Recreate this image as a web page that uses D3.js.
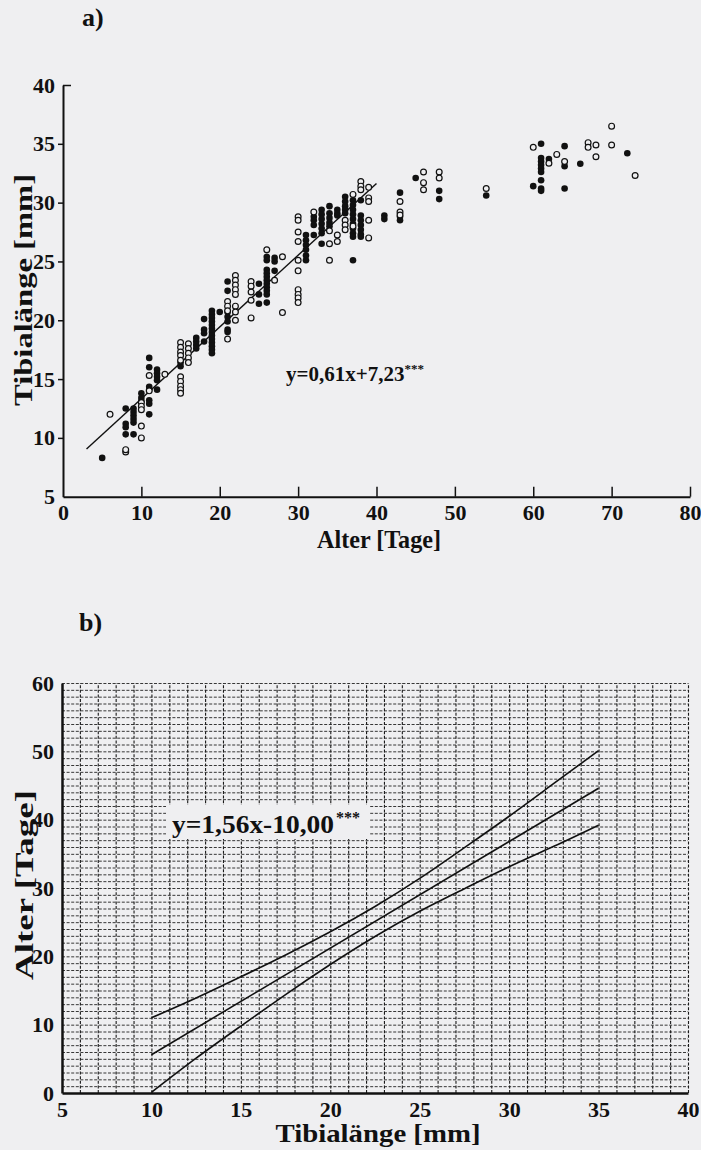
<!DOCTYPE html>
<html><head><meta charset="utf-8">
<script src="https://cdn.jsdelivr.net/npm/d3@7"></script>
<style>
html,body{margin:0;padding:0;background:#efeff1;}
svg{display:block;}
text{font-family:"Liberation Serif","Times New Roman",serif;font-weight:bold;fill:#111;}
</style></head>
<body>
<script>
// ---------- Panel a data: [Alter (Tage), Tibialänge (mm)] ----------
const filledPoints = [
 [5,8.3],
 [8,12.5],[8,11.2],[8,10.9],[8,10.3],
 [9,12.5],[9,12.2],[9,11.9],[9,11.6],[9,11.3],[9,10.3],
 [10,13.8],[10,13.4],[10,13.1],
 [11,16.8],[11,16.0],[11,14.35],[11,14.1],[11,13.2],[11,12.9],[11,12.0],
 [12,15.8],[12,15.5],[12,15.2],[12,14.9],[12,14.1],
 [15,16.4],[15,16.1],
 [17,18.5],[17,18.2],[17,17.9],[17,17.6],
 [18,20.1],[18,19.2],[18,18.9],[18,18.2],
 [19,20.8],[19,20.5],[19,20.2],[19,19.9],[19,19.6],[19,19.3],[19,19.0],[19,18.7],[19,18.4],[19,18.1],[19,17.8],[19,17.5],[19,17.2],
 [20,20.7],
 [21,23.3],[21,22.5],[21,20.7],[21,20.3],[21,19.9],[21,19.2],[21,19.0],
 [25,23.1],[25,22.2],[25,21.4],
 [26,25.4],[26,25.1],[26,24.3],[26,24.0],[26,23.7],[26,23.4],[26,23.1],[26,22.8],[26,22.5],[26,22.2],[26,21.5],
 [27,25.3],[27,25.0],[27,24.2],
 [31,27.25],[31,26.8],[31,26.4],[31,26.0],[31,25.5],[31,25.1],
 [32,28.8],[32,28.5],[32,28.1],[32,27.25],
 [33,29.4],[33,29.0],[33,28.6],[33,28.2],[33,27.8],[33,27.4],[33,26.5],
 [34,29.7],[34,29.1],[34,28.7],[34,28.3],[34,28.0],
 [35,29.4],[35,29.1],[35,28.9],
 [36,30.5],[36,30.1],[36,29.7],[36,29.4],[36,29.1],
 [37,30.2],[37,29.8],[37,29.4],[37,29.0],[37,28.6],[37,28.2],[37,27.8],[37,27.4],[37,27.1],[37,25.1],
 [38,30.2],[38,28.9],[38,28.5],[38,28.1],[38,27.7],[38,27.3],[38,27.1],
 [41,28.9],[41,28.6],
 [43,30.85],[43,28.8],[43,28.5],
 [45,32.1],
 [48,31.0],[48,30.3],
 [54,30.6],
 [60,31.4],
 [61,35.0],[61,33.8],[61,33.5],[61,33.2],[61,32.9],[61,32.6],[61,31.9],[61,31.2],[61,31.0],
 [62,33.7],
 [64,34.8],[64,33.1],[64,31.2],
 [66,33.3],
 [72,34.2]
];
const openPoints = [
 [6,12.0],
 [8,8.8],[8,9.0],
 [10,13.0],[10,12.7],[10,12.4],[10,11.0],[10,10.0],
 [11,15.3],[11,14.0],
 [13,15.4],
 [15,18.1],[15,17.7],[15,17.3],[15,17.0],[15,16.6],[15,15.2],[15,14.8],[15,14.4],[15,14.1],[15,13.8],
 [16,18.0],[16,17.6],[16,17.2],[16,16.8],[16,16.4],
 [21,21.6],[21,21.2],[21,20.8],[21,18.4],
 [22,23.8],[22,23.4],[22,23.0],[22,22.6],[22,22.2],[22,21.2],[22,20.7],[22,20.0],
 [24,23.3],[24,22.9],[24,22.4],[24,21.7],[24,20.2],
 [26,26.0],
 [27,23.4],
 [28,25.4],[28,20.65],
 [30,28.8],[30,28.5],[30,27.5],[30,26.7],[30,25.1],[30,24.2],[30,22.6],[30,22.2],[30,21.9],[30,21.5],
 [32,29.2],
 [34,27.6],[34,26.5],[34,25.1],
 [35,27.25],[35,26.7],
 [36,28.5],[36,28.1],[36,27.7],
 [37,30.7],[37,28.0],
 [38,31.8],[38,31.4],[38,31.1],
 [39,31.3],[39,30.4],[39,30.1],[39,28.5],[39,27.0],
 [43,30.1],[43,29.2],[43,28.95],
 [46,32.6],[46,31.7],[46,31.1],
 [48,32.6],[48,32.1],
 [54,31.2],
 [60,34.7],
 [62,33.35],
 [63,34.1],
 [64,33.5],
 [67,35.1],[67,34.7],
 [68,34.9],[68,33.9],
 [70,36.5],[70,34.9],
 [73,32.3]
];
// regression line a) y = 0.61x + 7.23, drawn from day 3 to day 40
const regA_x = [3, 40];
const regA_y = [9.06, 31.63];
const ticksA_x = [0,10,20,30,40,50,60,70,80];
const ticksA_y = [5,10,15,20,25,30,35,40];

// ---------- Panel b data ----------
const bandX     = [10, 12.5, 15, 17.5, 20, 22.5, 25, 27.5, 30, 32.5, 35];
const bandUpper = [11.0, 13.9, 17.0, 20.2, 23.6, 27.3, 31.4, 35.9, 40.5, 45.3, 50.1];
const bandLower = [0.1, 5.1, 9.8, 14.4, 18.8, 22.9, 26.6, 29.9, 33.1, 36.1, 39.2];
const regB_x = [10, 35];
const regB_y = [5.6, 44.6];
const ticksB_x = [5,10,15,20,25,30,35,40];
const ticksB_y = [0,10,20,30,40,50,60];

const W = 701, H = 1150;
const BG = "#efeff1";
const svg = d3.select("body").append("svg").attr("width", W).attr("height", H);

function styleLabels(sel, size){
  sel.selectAll("text").attr("font-size",size).attr("font-family","Liberation Serif")
    .attr("font-weight","bold").attr("fill","#111");
}

// ================= Panel a =================
const xA = d3.scaleLinear().domain([0,80]).range([63,690]);
const yA = d3.scaleLinear().domain([5,40]).range([496.7,85]);
const gA = svg.append("g");

svg.append("text").attr("x",82).attr("y",26).attr("font-size",26).text("a)");

// x axis (ticks inward)
const axA_x = gA.append("g").attr("transform",`translate(0,${yA(5)})`)
  .call(d3.axisBottom(xA).tickValues(ticksA_x).tickSizeInner(-10).tickSizeOuter(0).tickPadding(8));
axA_x.select(".domain").attr("stroke","#111").attr("stroke-width",2);
axA_x.selectAll(".tick line").attr("stroke","#111").attr("stroke-width",1.5);
axA_x.selectAll(".tick").filter(d=>d===0).select("line").remove();
styleLabels(axA_x, 22);

// y axis
const axA_y = gA.append("g").attr("transform",`translate(${xA(0)},0)`)
  .call(d3.axisLeft(yA).tickValues(ticksA_y).tickSizeInner(5).tickSizeOuter(0).tickPadding(3));
axA_y.select(".domain").attr("stroke","#111").attr("stroke-width",2);
axA_y.selectAll(".tick line").attr("stroke","#111").attr("stroke-width",1.5);
axA_y.selectAll(".tick").filter(d=>d===40).select("line").attr("x2",8);
axA_y.selectAll(".tick").filter(d=>d===5).select("line").remove();
styleLabels(axA_y, 22);

// titles
gA.append("text").attr("x",379).attr("y",548).attr("text-anchor","middle").attr("font-size",25)
  .attr("textLength",124).attr("lengthAdjust","spacingAndGlyphs").text("Alter [Tage]");
gA.append("text").attr("transform","translate(32,290) rotate(-90)").attr("text-anchor","middle").attr("font-size",26)
  .attr("textLength",232).attr("lengthAdjust","spacingAndGlyphs").text("Tibialänge [mm]");

// regression line
gA.append("line").attr("x1",xA(regA_x[0])).attr("y1",yA(regA_y[0]))
  .attr("x2",xA(regA_x[1])).attr("y2",yA(regA_y[1])).attr("stroke","#111").attr("stroke-width",1.4);

// points
gA.append("g").selectAll("circle").data(filledPoints).join("circle")
  .attr("cx",d=>xA(d[0])).attr("cy",d=>yA(d[1])).attr("r",3.3).attr("fill","#111");
gA.append("g").selectAll("circle").data(openPoints).join("circle")
  .attr("cx",d=>xA(d[0])).attr("cy",d=>yA(d[1])).attr("r",2.9)
  .attr("fill",BG).attr("stroke","#111").attr("stroke-width",1.2);

// equation
const eqA = gA.append("text").attr("x",286).attr("y",381).attr("font-size",21);
eqA.append("tspan").text("y=0,61x+7,23");
eqA.append("tspan").attr("dy",-8).attr("font-size",13).text("***");

// ================= Panel b =================
const xB = d3.scaleLinear().domain([5,40]).range([62,688]);
const yB = d3.scaleLinear().domain([0,60]).range([1093,683]);
const gB = svg.append("g");

svg.append("text").attr("x",79).attr("y",631).attr("font-size",26).text("b)");

// grid
const gridV = gB.append("g").attr("transform",`translate(0,${yB(0)})`)
  .call(d3.axisBottom(xB).tickValues(d3.range(6,41)).tickSize(-(yB(0)-yB(60))).tickFormat(""));
gridV.select(".domain").remove();
gridV.selectAll("line").attr("stroke","#1a1a1a").attr("stroke-width",1.1).attr("stroke-dasharray","3,1.6");
const gridH = gB.append("g").attr("transform",`translate(${xB(5)},0)`)
  .call(d3.axisLeft(yB).tickValues(d3.range(1,61)).tickSize(-(xB(40)-xB(5))).tickFormat(""));
gridH.select(".domain").remove();
gridH.selectAll("line").attr("stroke","#222").attr("stroke-width",0.9).attr("stroke-dasharray","3,1.6");

// axes
const axB_x = gB.append("g").attr("transform",`translate(0,${yB(0)})`)
  .call(d3.axisBottom(xB).tickValues(ticksB_x).tickSize(0).tickPadding(8));
axB_x.select(".domain").attr("stroke","#111").attr("stroke-width",2.5);
styleLabels(axB_x, 22);
const axB_y = gB.append("g").attr("transform",`translate(${xB(5)},0)`)
  .call(d3.axisLeft(yB).tickValues(ticksB_y).tickSize(0).tickPadding(8));
axB_y.select(".domain").attr("stroke","#111").attr("stroke-width",2.5);
styleLabels(axB_y, 22);

// titles
gB.append("text").attr("x",378).attr("y",1142).attr("text-anchor","middle").attr("font-size",25)
  .attr("textLength",205).attr("lengthAdjust","spacingAndGlyphs").text("Tibialänge [mm]");
gB.append("text").attr("transform","translate(33,885) rotate(-90)").attr("text-anchor","middle").attr("font-size",26)
  .attr("textLength",190).attr("lengthAdjust","spacingAndGlyphs").text("Alter [Tage]");

// band lines
const lineB = d3.line().x(d=>xB(d[0])).y(d=>yB(d[1])).curve(d3.curveNatural);
gB.append("path").attr("d",lineB(bandX.map((x,i)=>[x,bandUpper[i]]))).attr("fill","none").attr("stroke","#111").attr("stroke-width",1.6);
gB.append("path").attr("d",lineB(bandX.map((x,i)=>[x,bandLower[i]]))).attr("fill","none").attr("stroke","#111").attr("stroke-width",1.6);
gB.append("line").attr("x1",xB(regB_x[0])).attr("y1",yB(regB_y[0])).attr("x2",xB(regB_x[1])).attr("y2",yB(regB_y[1]))
  .attr("stroke","#111").attr("stroke-width",1.6);

// equation with box
gB.append("rect").attr("x",166).attr("y",805).attr("width",204).attr("height",34).attr("fill",BG);
const eqB = gB.append("text").attr("x",172).attr("y",833).attr("font-size",26)
  .attr("textLength",162).attr("lengthAdjust","spacingAndGlyphs").text("y=1,56x-10,00");
gB.append("text").attr("x",336).attr("y",823).attr("font-size",16).text("***");
</script>
</body></html>
